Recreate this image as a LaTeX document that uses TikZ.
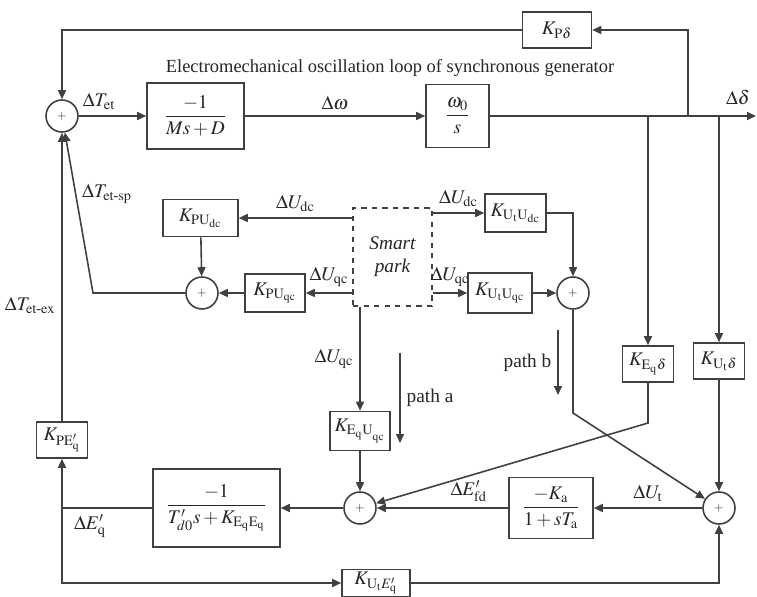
\documentclass[tikz,border=0pt]{standalone}
\usepackage{amsmath}
\usepackage{mathptmx}
\usepackage{fontspec}
\setmainfont{Liberation Serif}
\usetikzlibrary{arrows.meta}

\begin{document}
\begin{tikzpicture}[
    x=0.02cm, y=-0.02cm,
    font=\fontsize{11}{13}\selectfont,
    every node/.style={text=black!85},
    block/.style={draw=black!75, line width=0.9pt, rectangle, inner sep=1pt, align=center},
    sum/.style={draw=black!75, line width=0.9pt, circle, minimum size=0.64cm, inner sep=0pt, font=\scriptsize},
    park/.style={draw=black!75, line width=0.9pt, dashed, rectangle, minimum width=1.58cm, minimum height=1.96cm, align=center, font=\fontsize{11}{13}\selectfont\itshape},
    arrow/.style={draw=black!75, line width=0.9pt, -{Triangle[length=1.8mm,width=1.6mm]}},
    line/.style={draw=black!75, line width=0.9pt}
]
    \useasboundingbox (0,0) rectangle (757,597);

    % electromechanical loop
    \node[sum] (s1) at (62,116) {$+$};
    \node[block, minimum width=1.94cm, minimum height=1.32cm] (gm) at (195.5,116) {$\dfrac{-1}{Ms+D}$};
    \node[block, minimum width=1.26cm, minimum height=1.26cm] (wb) at (457.5,116) {$\dfrac{\omega_0}{s}$};
    \node[block, minimum width=1.38cm, minimum height=0.72cm] (kpd) at (557,30) {$K_{\mathrm{P}\delta}$};
    \node[font=\fontsize{10.5}{12}\selectfont] (title) at (390,68) {Electromechanical oscillation loop of synchronous generator};
    \coordinate (jd) at (688,116);
    \coordinate (b1) at (648,116);
    \coordinate (b2) at (719,116);
    \coordinate (out) at (756,116);

    \draw[arrow] (s1) -- node[above, pos=0.3] {$\Delta T_{\mathrm{et}}$} (gm);
    \draw[arrow] (gm) -- node[above] {$\Delta\omega$} (wb);
    \draw[arrow] (wb) -- (out);
    \node (dd) at (738,97) {$\Delta\delta$};
    \draw[arrow] (jd) |- (kpd);
    \draw[arrow] (kpd) -| (s1);

    % smart park
    \node[park] (sp) at (392.5,257) {Smart\\park};
    \node[block, minimum width=1.5cm, minimum height=0.74cm] (kpudc) at (200.5,218) {$K_{\mathrm{PU}_{\mathrm{dc}}}$};
    \node[sum] (s2) at (202,293) {$+$};
    \node[block, minimum width=1.2cm, minimum height=0.76cm] (kpuqc) at (275,293) {$K_{\mathrm{PU}_{\mathrm{qc}}}$};
    \node[block, minimum width=1.22cm, minimum height=0.76cm] (kutud) at (515.5,213) {$K_{\mathrm{U_tU}_{\mathrm{dc}}}$};
    \node[block, minimum width=1.28cm, minimum height=0.8cm] (kutuq) at (500,293) {$K_{\mathrm{U_tU}_{\mathrm{qc}}}$};
    \node[sum] (s4) at (573,293) {$+$};
    \coordinate (c1) at (93,293);
    \coordinate (c2) at (573,413);

    \draw[arrow] (sp.west |- kpudc) -- node[above] {$\Delta U_{\mathrm{dc}}$} (kpudc);
    \draw[arrow] (sp.west |- kpuqc) -- node[above] {$\Delta U_{\mathrm{qc}}$} (kpuqc);
    \draw[arrow] (kpudc) -- (s2);
    \draw[arrow] (kpuqc) -- (s2);
    \draw[arrow] (s2) -- (c1) -- node[right, pos=0.62] {$\Delta T_{\mathrm{et\text{-}sp}}$} (s1);
    \draw[arrow] (sp.east |- kutud) -- node[above] {$\Delta U_{\mathrm{dc}}$} (kutud);
    \draw[arrow] (sp.east |- kutuq) -- node[above] {$\Delta U_{\mathrm{qc}}$} (kutuq);
    \draw[arrow] (kutud) -| (s4);
    \draw[arrow] (kutuq) -- (s4);

    % excitation loop
    \node[block, minimum width=1.02cm, minimum height=0.72cm] (kpeq) at (62,440) {$K_{\mathrm{PE}'_{\mathrm{q}}}$};
    \node[block, minimum width=2.54cm, minimum height=1.56cm] (fe) at (216.5,508) {$\dfrac{-1}{T'_{d0}s+K_{\mathrm{E_qE_q}}}$};
    \node[sum] (s3) at (360,508) {$+$};
    \node[block, minimum width=1.2cm, minimum height=0.78cm] (keuq) at (360,431) {$K_{\mathrm{E_qU}_{\mathrm{qc}}}$};
    \node[block, minimum width=1.68cm, minimum height=1.22cm] (ka) at (551,508) {$\dfrac{-K_{\mathrm{a}}}{1+sT_{\mathrm{a}}}$};
    \node[sum] (s5) at (719,508) {$+$};
    \node[block, minimum width=1.02cm, minimum height=0.72cm] (keqd) at (648,364) {$K_{\mathrm{E_q}\delta}$};
    \node[block, minimum width=1.02cm, minimum height=0.72cm] (kutd) at (719,361) {$K_{\mathrm{U_t}\delta}$};
    \node[block, minimum width=1.36cm, minimum height=0.54cm] (kuteq) at (376,583) {$K_{\mathrm{U_t}E'_{\mathrm{q}}}$};
    \coordinate (j1) at (62,508);
    \coordinate (c3) at (648,423);

    \draw[arrow] (kpeq) -- node[left, pos=0.4] {$\Delta T_{\mathrm{et\text{-}ex}}$} (s1);
    \draw[arrow] (keuq.north |- sp.south) -- node[left] {$\Delta U_{\mathrm{qc}}$} (keuq);
    \draw[arrow] (keuq) -- (s3);
    \draw[arrow] (s3) -- (fe);
    \draw[line] (fe) -- (j1);
    \draw[arrow] (j1) -- (kpeq);
    \node (deq) at (90,526) {$\Delta E'_{\mathrm{q}}$};
    \draw[arrow] (j1) |- (kuteq);
    \draw[arrow] (kuteq) -| (s5);
    \draw[arrow] (s5) -- node[above] {$\Delta U_{\mathrm{t}}$} (ka);
    \draw[arrow] (ka) -- node[above, pos=0.3] {$\Delta E'_{\mathrm{fd}}$} (s3);
    \draw[arrow] (b1) -- (keqd);
    \draw[arrow] (b2) -- (kutd);
    \draw[arrow] (kutd) -- (s5);
    \draw[arrow] (keqd) -- (c3) -- (s3);
    \draw[arrow] (s4) -- (c2) -- (s5);

    % path markers
    \coordinate (pa1) at (400,353);
    \coordinate (pa2) at (400,443);
    \coordinate (pb1) at (558,330);
    \coordinate (pb2) at (558,395);
    \draw[arrow] (pa1) -- node[right] {path a} (pa2);
    \draw[arrow] (pb1) -- node[left] {path b} (pb2);
\end{tikzpicture}
\end{document}
